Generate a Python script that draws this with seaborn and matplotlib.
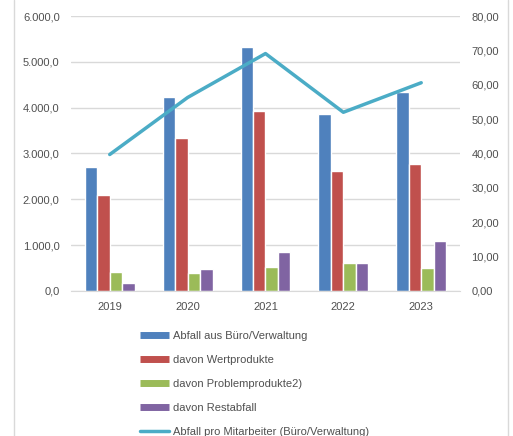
import matplotlib
matplotlib.use("Agg")
import matplotlib.pyplot as plt
from matplotlib.lines import Line2D
from matplotlib.ticker import FuncFormatter
import seaborn as sns
import pandas as pd

# data
years = ["2019", "2020", "2021", "2022", "2023"]
abfall_buero = [2707, 4229, 5334, 3858, 4352]
wertprodukte = [2096, 3348, 3930, 2613, 2766]
problemprodukte = [408, 386, 531, 597, 502]
restabfall = [168, 474, 845, 597, 1092]
pro_mitarbeiter = [39.7, 56.3, 69.1, 52.0, 60.6]

series_names = ["Abfall aus Büro/Verwaltung", "davon Wertprodukte",
                "davon Problemprodukte2)", "davon Restabfall"]
line_name = "Abfall pro Mitarbeiter (Büro/Verwaltung)"
colors = ["#4F81BD", "#C0504D", "#9BBB59", "#8064A2"]
line_color = "#4BACC6"

df = pd.DataFrame({
    "Jahr": years * 4,
    "Wert": abfall_buero + wertprodukte + problemprodukte + restabfall,
    "Serie": [s for s in series_names for _ in years],
})

sns.set_style("white")
plt.rcParams["font.family"] = ["Liberation Sans", "DejaVu Sans"]

fig = plt.figure(figsize=(5.13, 4.36), dpi=100)
ax = fig.add_axes([0.138, 0.333, 0.759, 0.630])

sns.barplot(data=df, x="Jahr", y="Wert", hue="Serie", palette=colors,
            width=0.64, ax=ax, legend=False, saturation=1)
ax.set_ylim(0, 6000)
ax.set_yticks(range(0, 6001, 1000))
ax.yaxis.set_major_formatter(FuncFormatter(
    lambda v, p: f"{v:,.1f}".replace(",", "X").replace(".", ",").replace("X", ".")))
ax.grid(axis="y", color="#d9d9d9", lw=1)
ax.set_axisbelow(True)
ax.set_xlabel("")
ax.set_ylabel("")
for s in ax.spines.values():
    s.set_visible(False)
ax.spines["bottom"].set_visible(True)
ax.spines["bottom"].set_color("#d9d9d9")
ax.tick_params(axis="both", length=0, labelsize=8, colors="#505050", pad=8)
ax.set_xlim(-0.5, 4.5)

ax2 = ax.twinx()
sns.lineplot(x=list(range(len(years))), y=pro_mitarbeiter, ax=ax2,
             color=line_color, lw=2.5)
ax2.set_ylim(0, 80)
ax2.set_yticks(range(0, 81, 10))
ax2.yaxis.set_major_formatter(FuncFormatter(lambda v, p: f"{v:.2f}".replace(".", ",")))
ax2.tick_params(axis="y", length=0, labelsize=8, colors="#505050", pad=8)
for s in ax2.spines.values():
    s.set_visible(False)
ax2.grid(False)

# chart area border lines
fig.add_artist(Line2D([14 / 513, 14 / 513], [0, 1], color="#d9d9d9", lw=1))
fig.add_artist(Line2D([508 / 513, 508 / 513], [0, 1], color="#d9d9d9", lw=1))

handles = [Line2D([], [], color=c, lw=5, solid_capstyle="butt") for c in colors]
handles.append(Line2D([], [], color=line_color, lw=2.5))
fig.legend(handles, series_names + [line_name], loc="upper left",
           bbox_to_anchor=(0.265, 0.252), frameon=False, fontsize=8,
           labelcolor="#505050", handlelength=2.6, handletextpad=0.3,
           labelspacing=1.27, borderaxespad=0)

fig.savefig("out.png", dpi=100)
